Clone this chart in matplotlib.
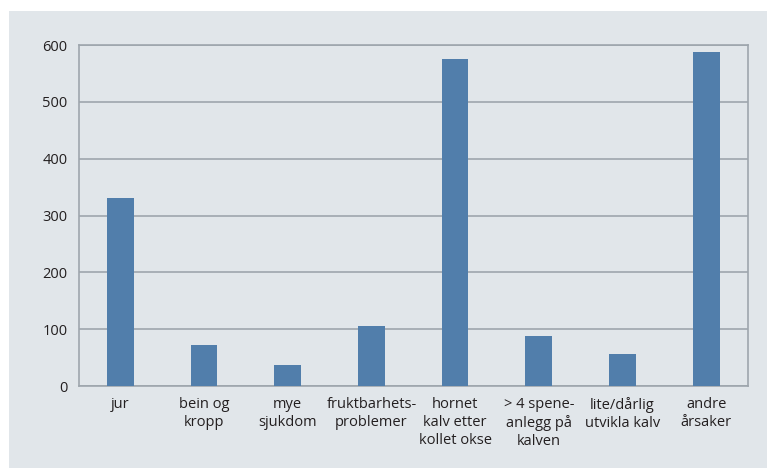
import numpy as np
import matplotlib.pyplot as plt
from matplotlib.patches import Rectangle

categories = ["jur", "bein og\nkropp", "mye\nsjukdom", "fruktbarhets-\nproblemer",
              "hornet\nkalv etter\nkollet okse", "> 4 spene-\nanlegg på\nkalven",
              "lite/dårlig\nutvikla kalv", "andre\nårsaker"]
values = [331, 72, 37, 106, 576, 88, 56, 588]
yticks = [0, 100, 200, 300, 400, 500, 600]

bg = '#e1e6ea'
bar_color = '#517eab'
line_color = '#9ea6ad'
text_color = '#231f20'

plt.rcParams['font.family'] = ['Open Sans', 'DejaVu Sans']

fig = plt.figure(figsize=(7.67, 4.68), dpi=100)
fig.patch.set_facecolor('white')
# grey panel behind the chart
fig.patches.append(Rectangle((9 / 767, 0), 1 - 9 / 767, (468 - 11) / 468,
                             transform=fig.transFigure, facecolor=bg,
                             edgecolor='none', zorder=-5))

ax = fig.add_axes([78.5 / 767, (468 - 386) / 468, (748 - 78.5) / 767, (386 - 45) / 468])
ax.set_facecolor(bg)

x = np.arange(len(categories))
ax.bar(x, values, width=0.32, color=bar_color, zorder=3)

ax.set_xlim(-0.5, len(categories) - 0.5)
ax.set_ylim(0, 600)
ax.set_yticks(yticks)
ax.set_xticks(x)
ax.set_xticklabels(categories, linespacing=1.25)
ax.tick_params(axis='both', length=0, labelsize=10.5, colors=text_color)
ax.tick_params(axis='x', pad=8)
ax.tick_params(axis='y', pad=8)

ax.grid(axis='y', color=line_color, linewidth=1.2, zorder=1)
for s in ax.spines.values():
    s.set_color(line_color)
    s.set_linewidth(1.2)

fig.savefig('out.png', dpi=100, facecolor='white')
